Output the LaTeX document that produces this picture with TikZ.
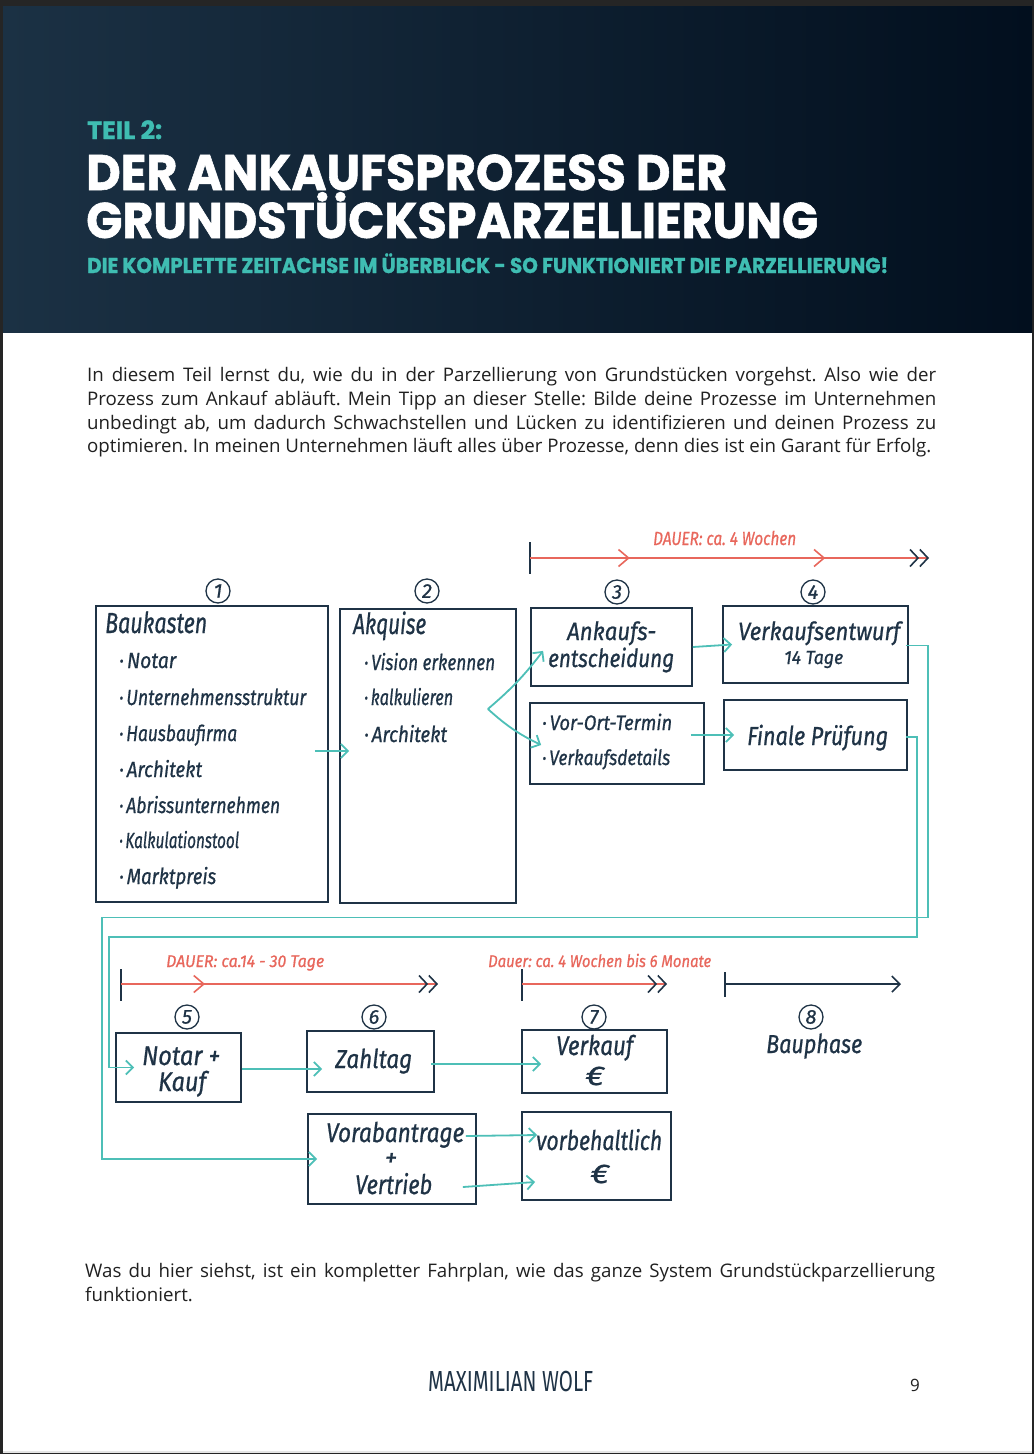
\documentclass[tikz,border=0pt]{standalone}
\usepackage{fontspec}
\usepackage{graphicx}
\usetikzlibrary{arrows.meta,calc,decorations.markings}
\setmainfont{Open Sans}
\newfontfamily\popfont{Poppins}[BoldFeatures={FakeBold=1.2}]
\newfontfamily\handfont{Fira Sans}[ItalicFeatures={FakeBold=0.8}]
\newfontfamily\footfont{Fira Sans}
\definecolor{navy}{HTML}{1F3346}
\definecolor{tealc}{HTML}{4DBFB7}
\definecolor{tealh}{HTML}{3FBDB2}
\definecolor{coral}{HTML}{E8675C}
\definecolor{hdrL}{HTML}{1B3144}
\definecolor{hdrR}{HTML}{020F1E}
\definecolor{frame}{HTML}{252525}
\definecolor{bodyc}{HTML}{202020}
\newcommand\wfit[2]{\resizebox{#1}{\height}{#2}}
\newcommand\lowUml{\ooalign{U\cr\hidewidth\smash{\raisebox{0.74em}{.\kern0.1em.}}\hidewidth\cr}}
\frenchspacing
\tikzset{
  box/.style={draw=navy, line width=1.8pt, inner sep=0pt},
  hw/.style={anchor=base west, inner sep=0pt, text=navy, font=\handfont\itshape\fontsize{#1}{#1}\selectfont},
  hwc/.style={anchor=base, inner sep=0pt, text=navy, font=\handfont\itshape\fontsize{#1}{#1}\selectfont},
  rl/.style={anchor=base west, inner sep=0pt, text=coral, font=\handfont\itshape\fontsize{#1}{#1}\selectfont},
  num/.style={draw=navy, line width=1.3pt, circle, minimum size=24pt, inner sep=0pt, text=navy, font=\handfont\itshape\fontsize{20}{20}\selectfont},
  tarrow/.style={draw=tealc, line width=1.8pt, -{Straight Barb[length=7pt,width=14pt]}},
  body/.style={anchor=base west, inner sep=0pt, text=bodyc, font=\frenchspacing\fontsize{18.7}{24}\selectfont},
  chev/.tip={Straight Barb[length=8pt,width=17pt]},
}
\begin{document}
\begin{tikzpicture}[x=1pt,y=-1pt]
\useasboundingbox (0,0) rectangle (1034,1454);
% page frame
\fill[frame] (0,0) rectangle (1034,1454);
\fill[white] (3,6) rectangle (1032,1452);
\fill[black!10] (3,1451) rectangle (1032,1452.5);
% header
\shade[left color=hdrL, right color=hdrR] (3,6) rectangle (1032,332);
\node[anchor=base west, inner sep=0pt, text=tealh, font=\popfont\bfseries\fontsize{25}{27}\selectfont] (teil) at (87,139) {\wfit{75pt}{TEIL 2:}};
\node[anchor=base west, inner sep=0pt, text=white, font=\popfont\bfseries\fontsize{50}{52}\selectfont] (title1) at (86,190) {\wfit{641pt}{DER ANKAUFSPROZESS DER}};
\node[anchor=base west, inner sep=0pt, text=white, font=\popfont\bfseries\fontsize{50}{52}\selectfont] (title2) at (86,238) {\wfit{732pt}{GRUNDST\lowUml CKSPARZELLIERUNG}};
\node[anchor=base west, inner sep=0pt, text=tealh, font=\popfont\bfseries\fontsize{21.5}{23}\selectfont] (sub) at (87,273) {\wfit{801pt}{DIE KOMPLETTE ZEITACHSE IM ÜBERBLICK - SO FUNKTIONIERT DIE PARZELLIERUNG!}};
% intro text
\node[body] (p1) at (87,381) {\makebox[849pt][s]{In diesem Teil lernst du, wie du in der Parzellierung von Grundstücken vorgehst. Also wie der}};
\node[body] (p2) at (87,405) {\makebox[849pt][s]{Prozess zum Ankauf abläuft. Mein Tipp an dieser Stelle: Bilde deine Prozesse im Unternehmen}};
\node[body] (p3) at (87,429) {\makebox[849pt][s]{unbedingt ab, um dadurch Schwachstellen und Lücken zu identifizieren und deinen Prozess zu}};
\node[body] (p4) at (87,452) {optimieren. In meinen Unternehmen läuft alles über Prozesse, denn dies ist ein Garant für Erfolg.};
% ---------- top timeline
\coordinate (ta) at (530,558);
\coordinate (tb) at (929,558);
\draw[navy, line width=1.8pt] ($(ta)+(0,-16)$) -- ($(ta)+(0,16)$);
\draw[coral, line width=1.6pt,
  -{chev[color=navy] chev[color=navy]},
  postaction={decorate, decoration={markings,
     mark=at position 0.25 with {\arrow[coral,line width=1.6pt]{Straight Barb[length=10pt,width=17pt]}},
     mark=at position 0.74 with {\arrow[coral,line width=1.6pt]{Straight Barb[length=10pt,width=17pt]}}}}]
  (ta) -- (tb);
\node[rl=19] (dauer1) at (653,545) {\wfit{143pt}{DAUER: ca. 4 Wochen}};
% numbers
\node[num] (n1) at (218,591) {1};
\node[num] (n2) at (427,591) {2};
\node[num] (n3) at (617,592) {3};
\node[num] (n4) at (813,592) {4};
% boxes
\node[box, minimum width=232pt, minimum height=296pt] (b1) at (212,754) {};
\node[box, minimum width=176pt, minimum height=294pt] (b2) at (428,756) {};
\node[box, minimum width=161pt, minimum height=78pt] (b3) at (611.5,647) {};
\node[box, minimum width=185pt, minimum height=77pt] (b4) at (815.5,644.5) {};
\node[box, minimum width=174pt, minimum height=81pt] (bV) at (617,743.5) {};
\node[box, minimum width=183pt, minimum height=70pt] (bF) at (815.5,735) {};
% box 1 texts
\node[hw=29] (bauk) at (105,633) {\wfit{102pt}{Baukasten}};
\node[hw=22] (i1) at (119,668) {\wfit{57pt}{·\,Notar}};
\node[hw=22] (i2) at (119,705) {\wfit{187pt}{·\,Unternehmensstruktur}};
\node[hw=22] (i3) at (119,741) {\wfit{118pt}{·\,Hausbaufirma}};
\node[hw=22] (i4) at (119,777) {\wfit{83pt}{·\,Architekt}};
\node[hw=22] (i5) at (119,813) {\wfit{161pt}{·\,Abrissunternehmen}};
\node[hw=22] (i6) at (119,848) {\wfit{120pt}{·\,Kalkulationstool}};
\node[hw=22] (i7) at (119,884) {\wfit{97pt}{·\,Marktpreis}};
% box 2 texts
\node[hw=29] (akq) at (353,634) {\wfit{73pt}{Akquise}};
\node[hw=22] (j1) at (364,670) {\wfit{131pt}{·\,Vision erkennen}};
\node[hw=22] (j2) at (364,705) {\wfit{89pt}{·\,kalkulieren}};
\node[hw=22] (j3) at (364,742) {\wfit{83pt}{·\,Architekt}};
% box 3,4
\node[hw=25] (ank1) at (567,640) {\wfit{89pt}{Ankaufs-}};
\node[hw=25] (ank2) at (548,667) {\wfit{126pt}{entscheidung}};
\node[hw=25] (ve) at (738,640) {\wfit{162pt}{Verkaufsentwurf}};
\node[hw=19] (vt) at (784,664) {\wfit{59pt}{14 Tage}};
\node[hw=21] (vo1) at (542,730) {\wfit{130pt}{·\,Vor-Ort-Termin}};
\node[hw=21] (vo2) at (542,765) {\wfit{128pt}{·\,Verkaufsdetails}};
\node[hw=26] (fin) at (747,745) {\wfit{141pt}{Finale Prüfung}};
% connectors top
\draw[tarrow] ($(b1.east)+(-14,-3)$) -- ($(b2.west)+(10,-5)$);
\coordinate (fork) at ($(b2.east)+(-29,-47)$);
\draw[tarrow] (fork) to[bend right=6] ($(b3.south west)+(13,-36)$);
\draw[tarrow] (fork) to[bend right=8] ($(bV.west)+(12,1.5)$);
\draw[tarrow] (b3.east) -- ($(b4.west)+(10,0)$);
\draw[tarrow] ($(bV.east)+(-14,-8.5)$) -- ($(bF.west)+(11,0)$);
% ---------- bottom timelines
\coordinate (sa) at (121,984);
\coordinate (sb) at (438,984);
\draw[navy, line width=1.8pt] ($(sa)+(0,-15)$) -- ($(sa)+(0,17)$);
\draw[coral, line width=1.6pt,
  -{chev[color=navy] chev[color=navy]},
  postaction={decorate, decoration={markings,
     mark=at position 0.265 with {\arrow[coral,line width=1.6pt]{Straight Barb[length=10pt,width=17pt]}}}}]
  (sa) -- (sb);
\node[rl=17] (dauer2) at (166,967) {\wfit{158pt}{DAUER: ca.14 - 30 Tage}};
\coordinate (ua) at (522,984);
\coordinate (ub) at (667,984);
\draw[navy, line width=1.8pt] ($(ua)+(0,-15)$) -- ($(ua)+(0,17)$);
\draw[coral, line width=2.6pt, -{chev[color=navy,line width=1.6pt] chev[color=navy,line width=1.6pt]}] (ua) -- (ub);
\node[rl=17] (dauer3) at (488,967) {\wfit{223pt}{Dauer: ca. 4 Wochen bis 6 Monate}};
\coordinate (va) at (725,984);
\coordinate (vb) at (901,984);
\draw[navy, line width=1.8pt] ($(va)+(0,-12)$) -- ($(va)+(0,13)$);
\draw[navy, line width=1.6pt, -{Straight Barb[length=8pt,width=16pt]}] (va) -- (vb);
% numbers bottom
\node[num] (n5) at (187,1017) {5};
\node[num] (n6) at (374,1017) {6};
\node[num] (n7) at (594,1017) {7};
\node[num] (n8) at (811,1017) {8};
% bottom boxes
\node[box, minimum width=125pt, minimum height=69pt] (b5) at (178.5,1067.5) {};
\node[box, minimum width=127pt, minimum height=61pt] (b6) at (370.5,1061.5) {};
\node[box, minimum width=145pt, minimum height=63pt] (b7) at (594.5,1061.5) {};
\node[box, minimum width=168pt, minimum height=90pt] (bA) at (392,1159) {};
\node[box, minimum width=149pt, minimum height=88pt] (bB) at (596.5,1156) {};
\node[hw=27] (nk1) at (142,1065) {\wfit{78pt}{Notar +}};
\node[hw=27] (nk2) at (158,1091) {\wfit{48pt}{Kauf}};
\node[hw=26] (zt) at (335,1068) {\wfit{77pt}{Zahltag}};
\node[hw=27] (vk1) at (556,1055) {\wfit{77pt}{Verkauf}};
\node[hw=27] (vk2) at (585,1085) {\wfit{19pt}{€}};
\node[hw=26] (bau) at (766,1053) {\wfit{96pt}{Bauphase}};
\node[hw=27] (va1) at (326,1142) {\wfit{138pt}{Vorabantrage}};
\node[hwc=25] (va2) at (391,1166) {+};
\node[hw=27] (va3) at (355,1194) {\wfit{77pt}{Vertrieb}};
\node[hw=27] (vb1) at (536,1150) {\wfit{126pt}{vorbehaltlich}};
\node[hw=27] (vb2) at (590,1183) {\wfit{19pt}{€}};
% bottom connectors
\draw[tarrow] ($(b5.east)+(0,1.5)$) -- ($(b6.west)+(16,7.5)$);
\draw[tarrow] ($(b6.east)+(-4,2.5)$) -- ($(b7.west)+(20,2.5)$);
\draw[tarrow] ($(bA.east)+(-11,-23)$) -- ($(bB.west)+(16,-21)$);
\draw[tarrow] ($(bA.east)+(-14,28)$) -- ($(bB.west)+(14,26)$);
% long connectors
\draw[tarrow] ($(b4.east)+(-3,1)$) -- ++(22,0) -- ++(0,272) -- ++(-826,0) |- ($(bA.west)+(10,0)$);
\draw[tarrow] ($(bF.east)+(-2,2)$) -- ++(11,0) -- ++(0,200) -- ++(-808,0) |- ($(b5.west)+(19,0)$);
% closing text
\node[body] (q1) at (85,1277) {\makebox[850pt][s]{Was du hier siehst, ist ein kompletter Fahrplan, wie das ganze System Grundstückparzellierung}};
\node[body] (q2) at (85,1301) {funktioniert.};
% footer
\node[anchor=base west, inner sep=0pt, text=navy, font=\footfont\fontsize{29}{30}\selectfont] (foot) at (428,1391) {\wfit{165pt}{MAXIMILIAN WOLF}};
\node[anchor=base west, inner sep=0pt, text=bodyc, font=\fontsize{17}{20}\selectfont] (page) at (910,1391) {9};
\end{tikzpicture}
\end{document}
